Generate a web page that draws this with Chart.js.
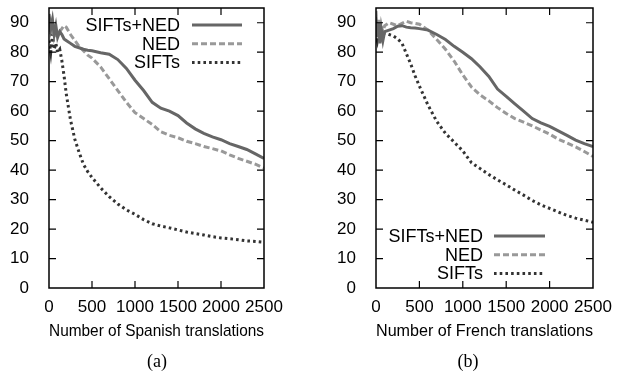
<!DOCTYPE html>
<html>
<head>
<meta charset="utf-8">
<script src="https://cdn.jsdelivr.net/npm/chart.js@4/dist/chart.umd.min.js"></script>
<style>
  body { margin: 0; background: #fff; }
  #wrap { position: relative; width: 623px; height: 378px; }
  canvas { position: absolute; top: 0; }
  .cap { position: absolute; top: 351px; font: 18px "Liberation Serif", serif; color: #000; transform: translateX(-50%); }
</style>
</head>
<body>
<div id="wrap">
  <canvas id="chartA" width="312" height="378" style="left:0"></canvas>
  <canvas id="chartB" width="312" height="378" style="left:311px"></canvas>
  <div class="cap" style="left:157px">(a)</div>
  <div class="cap" style="left:468px">(b)</div>
</div>
<script>
// tick labels
const xTicks = [0, 500, 1000, 1500, 2000, 2500];
const yTicks = [0, 10, 20, 30, 40, 50, 60, 70, 80, 90];
const seriesNames = ['SIFTs+NED', 'NED', 'SIFTs'];

// (a) Spanish
const spanishX = [0, 20, 40, 60, 80, 100, 125, 150, 175, 200, 250, 300, 350, 400, 450, 500,
  600, 700, 800, 900, 1000, 1100, 1200, 1300, 1400, 1500, 1600, 1700, 1800, 1900, 2000, 2100, 2200, 2300, 2400, 2500];
const spanishBoth = [93, 88, 91, 86, 89, 85, 87, 86, 84.5, 84, 83, 82, 81.5, 81, 80.7, 80.5,
  79.8, 79.3, 77.5, 74.5, 70.5, 67, 63, 61, 60, 58.5, 56, 54, 52.5, 51.3, 50.3, 49, 48, 47, 45.5, 44];
const spanishNED = [92, 86, 90, 85, 88, 86, 87, 88, 89, 88.5, 86, 84, 82, 80.5, 79, 78,
  75, 71, 67, 63, 59.5, 57.5, 55.5, 53, 51.8, 51, 49.8, 49, 48, 47.3, 46.5, 45.2, 44, 43, 42, 40.7];
const spanishSIFTs = [84, 80, 86, 81, 83, 80, 81, 77, 72, 66, 57, 50.5, 46, 42, 39.5, 37.5,
  34, 31, 28.5, 26.5, 25, 23.2, 21.8, 21, 20.4, 19.7, 19, 18.5, 18, 17.4, 17, 16.7, 16.4, 16, 15.8, 15.5];

// (b) French
const frenchX = [0, 15, 30, 45, 60, 80, 100, 150, 200, 250, 300, 350, 400, 450, 500,
  600, 700, 800, 900, 1000, 1100, 1200, 1300, 1400, 1500, 1600, 1700, 1800, 1900, 2000, 2100, 2200, 2300, 2400, 2500];
const frenchBoth = [92, 85, 90, 83, 88, 84, 87, 87.5, 88, 88.8, 89, 88.5, 88.3, 88.2, 88,
  87.5, 86, 84.3, 82, 80, 77.8, 75, 71.8, 67.5, 65, 62.5, 60, 57.5, 56, 54.8, 53.3, 51.8, 50.2, 49, 48];
const frenchNED = [94, 86, 91, 86, 89, 87, 89, 90, 89.5, 89, 89.8, 90.5, 90, 89.8, 89.5,
  87.5, 84.3, 81, 77, 72.3, 68.2, 65.5, 63.5, 61.2, 59.2, 57.5, 56.3, 55, 53.6, 52.2, 50.5, 49.2, 47.9, 46.3, 44.6];
const frenchSIFTs = [86, 84, 87, 85, 86.5, 86, 86.5, 86, 85.5, 84.5, 83, 79.5, 76, 72, 68.5,
  62, 56.5, 52.5, 49.5, 46.5, 42.5, 40.5, 38.5, 36.7, 35, 33.2, 31.5, 29.7, 28.2, 27, 25.8, 24.6, 23.7, 23, 22.3];

const styles = [
  { borderColor: '#666666', borderDash: [] },
  { borderColor: '#999999', borderDash: [6, 3] },
  { borderColor: '#333333', borderDash: [2.6, 3.1] }
];
const FONT = '"Liberation Sans", Arial, sans-serif';

function pts(xs, ys) { return xs.map((x, i) => ({ x, y: ys[i] })); }

// gnuplot style frame with inward ticks on all four sides
const framePlugin = {
  id: 'frame',
  afterDatasetsDraw(chart) {
    const { ctx, chartArea: a, scales } = chart;
    ctx.save();
    ctx.strokeStyle = '#000';
    ctx.lineWidth = 1.5;
    ctx.strokeRect(a.left, a.top, a.right - a.left, a.bottom - a.top);
    ctx.lineWidth = 1.2;
    ctx.beginPath();
    xTicks.slice(1, -1).forEach(v => {
      const px = scales.x.getPixelForValue(v);
      ctx.moveTo(px, a.bottom); ctx.lineTo(px, a.bottom - 7);
      ctx.moveTo(px, a.top); ctx.lineTo(px, a.top + 7);
    });
    yTicks.slice(1).forEach(v => {
      const py = scales.y.getPixelForValue(v);
      ctx.moveTo(a.left, py); ctx.lineTo(a.left + 7, py);
      ctx.moveTo(a.right, py); ctx.lineTo(a.right - 7, py);
    });
    ctx.stroke();
    ctx.restore();
  }
};

// legend: label right aligned, line sample after it
const keyPlugin = {
  id: 'key',
  afterDatasetsDraw(chart, args, opts) {
    const { ctx } = chart;
    ctx.save();
    ctx.font = '18px ' + FONT;
    ctx.textAlign = 'right';
    ctx.textBaseline = 'middle';
    chart.data.datasets.forEach((ds, i) => {
      const y = opts.y + i * opts.dy;
      ctx.fillStyle = '#000';
      ctx.fillText(ds.label, opts.textRight, y + 1);
      ctx.strokeStyle = ds.borderColor;
      ctx.lineWidth = 3;
      ctx.setLineDash(ds.borderDash);
      ctx.beginPath();
      ctx.moveTo(opts.x0, y); ctx.lineTo(opts.x1, y);
      ctx.stroke();
    });
    ctx.restore();
  }
};

function makeChart(id, xs, series, xTitle, pad, yWidth, key) {
  new Chart(document.getElementById(id), {
    type: 'line',
    data: {
      datasets: series.map((ys, i) => ({
        label: seriesNames[i],
        data: pts(xs, ys),
        borderColor: styles[i].borderColor,
        borderDash: styles[i].borderDash,
        borderWidth: 3,
        borderCapStyle: 'butt',
        pointRadius: 0,
        tension: 0,
        fill: false
      }))
    },
    options: {
      responsive: false,
      animation: false,
      devicePixelRatio: 1,
      layout: { padding: pad },
      plugins: { legend: { display: false }, tooltip: { enabled: false }, key },
      scales: {
        x: {
          type: 'linear', min: 0, max: 2500,
          afterBuildTicks: s => { s.ticks = xTicks.map(v => ({ value: v })); },
          afterFit: s => { s.height = 54; s.paddingLeft = 0; s.paddingRight = 0; },
          grid: { display: false },
          border: { display: false },
          ticks: { autoSkip: false, maxRotation: 0, padding: 1, color: '#000', font: { family: FONT, size: 17 },
            callback: v => String(v) },
          title: { display: true, text: xTitle, color: '#000', padding: 0, font: { family: FONT, size: 17 } }
        },
        y: {
          min: 0, max: 95,
          afterBuildTicks: s => { s.ticks = yTicks.map(v => ({ value: v })); },
          afterFit: s => { s.width = yWidth; s.paddingTop = 0; s.paddingBottom = 0; },
          grid: { display: false },
          border: { display: false },
          ticks: { padding: 12, color: '#000', font: { family: FONT, size: 17 }, callback: v => String(v) }
        }
      }
    },
    plugins: [framePlugin, keyPlugin]
  });
}

makeChart('chartA', spanishX, [spanishBoth, spanishNED, spanishSIFTs], 'Number of Spanish translations',
  { left: 0, right: 48, top: 8, bottom: 36 }, 49,
  { textRight: 180, y: 25, dy: 18.7, x0: 192, x1: 242 });
makeChart('chartB', frenchX, [frenchBoth, frenchNED, frenchSIFTs], 'Number of French translations',
  { left: 0, right: 30, top: 8, bottom: 36 }, 65,
  { textRight: 172, y: 236, dy: 18.7, x0: 183, x1: 234 });
</script>
</body>
</html>
